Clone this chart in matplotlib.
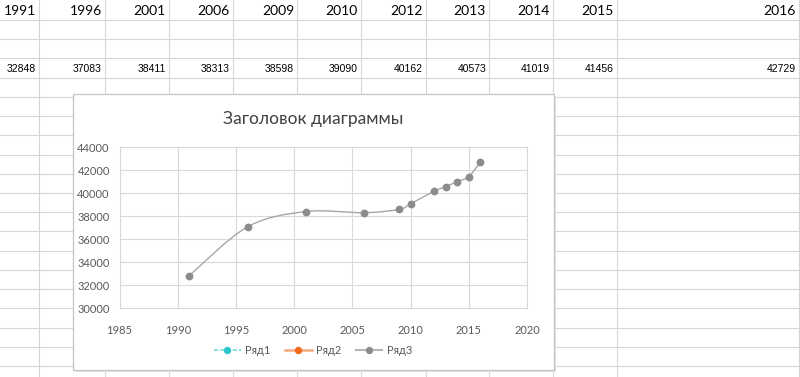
import matplotlib
matplotlib.use("Agg")
import matplotlib.pyplot as plt
from matplotlib.path import Path
from matplotlib.patches import PathPatch, Rectangle
from matplotlib.lines import Line2D

# data from the sheet (row 4), rows 2 and 3 are empty
years = [1991, 1996, 2001, 2006, 2009, 2010, 2012, 2013, 2014, 2015, 2016]
values = [32848, 37083, 38411, 38313, 38598, 39090, 40162, 40573, 41019, 41456, 42729]
series1 = []
series2 = []
series_names = ["Ряд1", "Ряд2", "Ряд3"]
title = "Заголовок диаграммы"

W, H = 800, 377
# sheet layout in pixels
col_right = [39, 105, 169, 233, 297, 361, 426, 489, 553, 617, 799]
row_step = 19.22
n_rows = 19
chart_box = (73, 94, 554, 370)      # left, top, right, bottom
plot_box = (119.5, 147.3, 527, 308.3)

grid_c = "#d6d6d6"
txt_c = "#595959"
FONT = ["Lato", "DejaVu Sans"]

fig = plt.figure(figsize=(W / 100, H / 100), dpi=100)
fig.patch.set_facecolor("white")

# ---- spreadsheet background ----
sheet = fig.add_axes([0, 0, 1, 1])
sheet.set_xlim(0, W)
sheet.set_ylim(H, 0)
sheet.axis("off")
for k in range(n_rows):
    y = 20 + row_step * k
    sheet.plot([0, W], [y, y], color=grid_c, lw=0.8, zorder=1)
for x in col_right:
    sheet.plot([x, x], [0, H], color=grid_c, lw=0.8, zorder=1)

for x, yr, v in zip(col_right, years, values):
    sheet.text(x - 3, 11, str(yr), ha="right", va="center", fontsize=10,
               family=FONT, color="black", zorder=2)
    sheet.text(x - 3, 69.5, str(v), ha="right", va="center", fontsize=7.5,
               family=["Liberation Sans"], color="black", zorder=2)

# chart white frame with a faint shadow
l, t, r, b = chart_box
sheet.add_patch(Rectangle((l + 1.5, t + 1.5), r - l, b - t, facecolor="#e6e6e6",
                          edgecolor="none", zorder=3))
sheet.add_patch(Rectangle((l, t), r - l, b - t, facecolor="white",
                          edgecolor="#c4c4c4", lw=0.9, zorder=4))
sheet.text((plot_box[0] + plot_box[2]) / 2 - 10, 119, title, ha="center", va="center",
           fontsize=12.5, family=FONT, color="#404040", zorder=5)

# ---- chart ----
pl, pt, pr, pb = plot_box
ax = fig.add_axes([pl / W, 1 - pb / H, (pr - pl) / W, (pb - pt) / H])
ax.set_facecolor("none")
ax.set_xlim(1985, 2020)
ax.set_ylim(30000, 44000)
ax.set_xticks(range(1985, 2021, 5))
ax.set_yticks(range(30000, 44001, 2000))
ax.grid(True, color="#d9d9d9", lw=0.8)
ax.set_axisbelow(True)
for s in ax.spines.values():
    s.set_color("#d9d9d9")
    s.set_linewidth(0.8)
ax.tick_params(length=0, labelsize=8, colors=txt_c)
ax.tick_params(axis="x", pad=12)
ax.tick_params(axis="y", pad=7)
for lab in ax.get_xticklabels() + ax.get_yticklabels():
    lab.set_family(FONT)

# smoothed line (Catmull-Rom style bezier like Excel's smooth line)
pts = list(zip(years, values))
verts = [pts[0]]
codes = [Path.MOVETO]
n = len(pts)
for i in range(n - 1):
    p0 = pts[max(i - 1, 0)]
    p1 = pts[i]
    p2 = pts[i + 1]
    p3 = pts[min(i + 2, n - 1)]
    c1 = (p1[0] + (p2[0] - p0[0]) / 6, p1[1] + (p2[1] - p0[1]) / 6)
    c2 = (p2[0] - (p3[0] - p1[0]) / 6, p2[1] - (p3[1] - p1[1]) / 6)
    verts += [c1, c2, p2]
    codes += [Path.CURVE4] * 3
ax.add_patch(PathPatch(Path(verts, codes), facecolor="none", edgecolor="#a6a6a6",
                       lw=1.0, zorder=2))

c1_col, c2_col, c3_col = "#2ec5cb", "#f26b1d", "#8c8c8c"
ax.plot(series1, series1, color=c1_col)
ax.plot(series2, series2, color=c2_col)
ax.plot(years, values, "o", color=c3_col, ms=4.6, zorder=3)

handles = [
    Line2D([], [], color="#8fdfe2", ls=(0, (2, 1)), lw=1.5, marker="o", ms=4.3,
           mfc=c1_col, mec=c1_col),
    Line2D([], [], color="#f5a97c", lw=1.8, marker="o", ms=4.3, mfc=c2_col, mec=c2_col),
    Line2D([], [], color="#b5b5b5", lw=1.5, marker="o", ms=4.3, mfc=c3_col, mec=c3_col),
]
leg = fig.legend(handles, series_names, loc="center", ncol=3,
                 bbox_to_anchor=(313 / W, 1 - 350 / H), frameon=False,
                 prop={"family": FONT, "size": 8}, handlelength=2.4,
                 columnspacing=1.3, handletextpad=0.4)
for t_ in leg.get_texts():
    t_.set_color(txt_c)

fig.savefig("out.png", dpi=100, facecolor="white")
